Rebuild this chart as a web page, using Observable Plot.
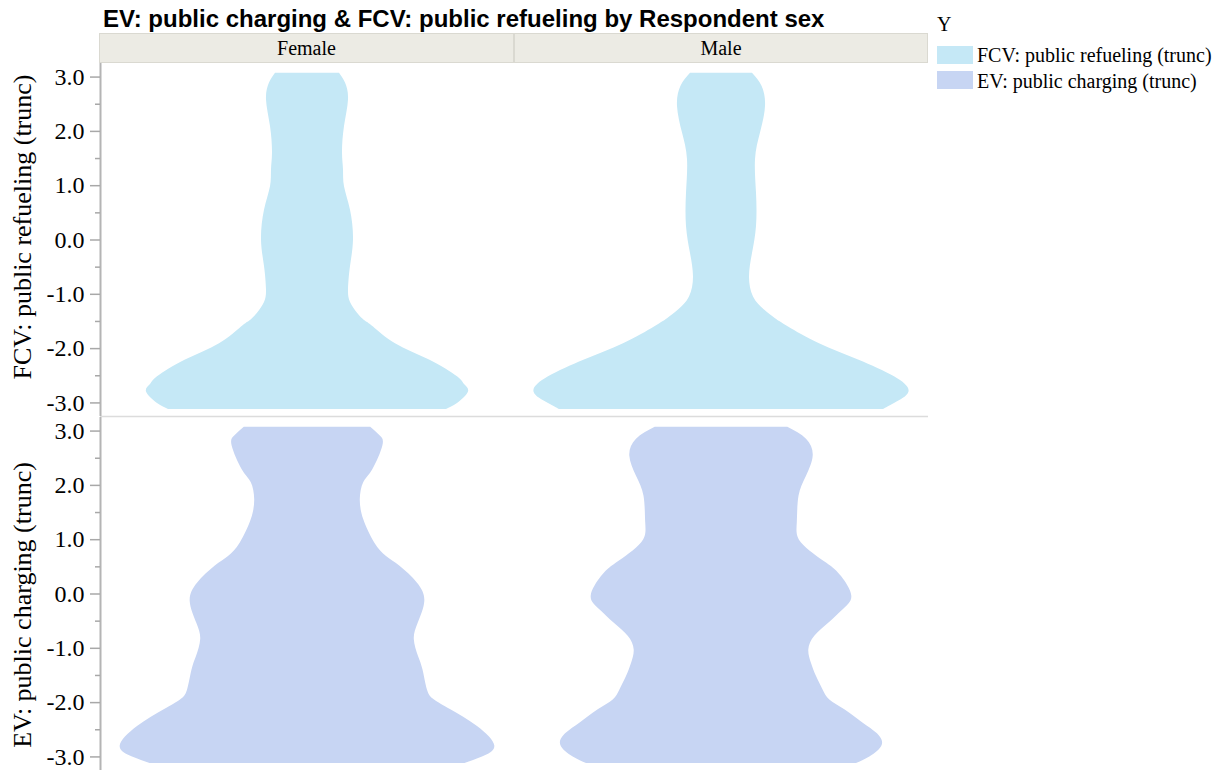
<!DOCTYPE html>
<html>
<head>
<meta charset="utf-8">
<script src="https://cdn.jsdelivr.net/npm/d3@7"></script>
<script src="https://cdn.jsdelivr.net/npm/@observablehq/plot@0.6"></script>
<style>
  body { margin: 0; background: white; }
  #wrap { position: relative; width: 1229px; height: 770px; overflow: hidden; font-family: "Liberation Serif", "Times New Roman", serif; color: black; }
  #title { position: absolute; left: 103px; top: 7px; font: bold 24px/24px "Liberation Sans", Arial, sans-serif; white-space: nowrap; }
  .strip { position: absolute; top: 33px; height: 28px; line-height: 28px; background: #ECEBE4; border: 1px solid #DAD9D1; text-align: center; font-size: 20px; box-sizing: content-box; }
  #chart { position: absolute; left: 0; top: 63px; }
  .leg { position: absolute; font-size: 20px; line-height: 20px; white-space: nowrap; }
  .sw { position: absolute; left: 937px; width: 36px; height: 18px; }
</style>
</head>
<body>
<div id="wrap">
  <div id="title"></div>
  <div id="strips"></div>
  <div id="chart"></div>
  <div id="legend"></div>
</div>
<script>
// ---- data ----
const titleText = "EV: public charging & FCV: public refueling by Respondent sex";
const sexes = ["Female", "Male"];
const rows = ["FCV: public refueling (trunc)", "EV: public charging (trunc)"];
const rowColors = ["#C5E8F6", "#C7D5F3"];
const legendTitle = "Y";
const majorTicks = [-3, -2, -1, 0, 1, 2, 3];
const minorTicks = [-2.5, -1.5, -0.5, 0.5, 1.5, 2.5];

// [value, density half-width] pairs, bottom to top
const fcvFemale = [
  [-3.12, 1.39], [-3.01, 1.50], [-2.80, 1.61], [-2.66, 1.57], [-2.52, 1.50], [-2.21, 1.22],
  [-1.91, 0.88], [-1.60, 0.66], [-1.48, 0.57], [-1.35, 0.50], [-1.15, 0.43], [-0.92, 0.41],
  [-0.49, 0.43], [0.00, 0.46], [0.55, 0.43], [0.98, 0.37], [1.29, 0.36], [1.60, 0.35],
  [2.09, 0.37], [2.58, 0.41], [2.89, 0.38], [3.07, 0.32]
];
const fcvMale = [
  [-3.12, 1.62], [-3.01, 1.73], [-2.80, 1.875], [-2.52, 1.73], [-2.21, 1.37], [-1.91, 0.98],
  [-1.60, 0.67], [-1.45, 0.54], [-1.29, 0.43], [-1.05, 0.32], [-0.68, 0.28], [-0.25, 0.31],
  [0.25, 0.35], [0.86, 0.35], [1.48, 0.34], [1.97, 0.39], [2.46, 0.44], [2.83, 0.405], [3.07, 0.31]
];
const evFemale = [
  [-3.12, 1.575], [-3.00, 1.75], [-2.80, 1.873], [-2.44, 1.70], [-2.13, 1.433], [-1.95, 1.27],
  [-1.77, 1.20], [-1.40, 1.155], [-1.15, 1.11], [-0.84, 1.068], [-0.54, 1.107], [-0.14, 1.173],
  [0.20, 1.10], [0.51, 0.925], [0.69, 0.79], [0.94, 0.672], [1.37, 0.562], [1.74, 0.528],
  [2.05, 0.562], [2.29, 0.653], [2.72, 0.753], [2.91, 0.728], [3.07, 0.632]
];
const evMale = [
  [-3.12, 1.35], [-3.00, 1.483], [-2.78, 1.608], [-2.56, 1.55], [-2.38, 1.417], [-2.13, 1.233],
  [-1.95, 1.083], [-1.77, 1.017], [-1.52, 0.95], [-1.28, 0.90], [-1.03, 0.873], [-0.78, 0.933],
  [-0.54, 1.072], [-0.29, 1.217], [-0.04, 1.303], [0.32, 1.20], [0.57, 1.05], [0.94, 0.80],
  [1.31, 0.758], [1.80, 0.775], [2.17, 0.85], [2.54, 0.917], [2.85, 0.85], [3.07, 0.663]
];

const series = [
  {row: rows[0], sex: sexes[0], pts: fcvFemale},
  {row: rows[0], sex: sexes[1], pts: fcvMale},
  {row: rows[1], sex: sexes[0], pts: evFemale},
  {row: rows[1], sex: sexes[1], pts: evMale}
];
const table = series.flatMap(s => s.pts.map(([y, d]) => ({row: s.row, sex: s.sex, y, d})));

const XMAX = 2.07;
const YDOM = [-3.25, 3.25];

// ---- title / strips / legend (HTML around the SVG) ----
document.getElementById("title").textContent = titleText;
const strips = document.getElementById("strips");
sexes.forEach((s, i) => {
  const d = document.createElement("div");
  d.className = "strip";
  d.style.left = (i === 0 ? 99 : 514) + "px";
  d.style.width = (i === 0 ? 413 : 412) + "px";
  d.textContent = s;
  strips.appendChild(d);
});
const legend = document.getElementById("legend");
const lt = document.createElement("div");
lt.className = "leg"; lt.style.left = "937px"; lt.style.top = "14px"; lt.textContent = legendTitle;
legend.appendChild(lt);
rows.forEach((r, i) => {
  const sw = document.createElement("div");
  sw.className = "sw"; sw.style.top = (46 + i * 25) + "px"; sw.style.background = rowColors[i];
  legend.appendChild(sw);
  const t = document.createElement("div");
  t.className = "leg"; t.style.left = "977px"; t.style.top = (45 + i * 26) + "px"; t.textContent = r;
  legend.appendChild(t);
});

// ---- the plot ----
const leftFacets = rows.map(r => ({row: r, sex: sexes[0]}));
const topFacets = sexes.map(s => ({row: rows[0], sex: s}));

const plot = Plot.plot({
  width: 930,
  height: 707,
  marginLeft: 100,
  marginRight: 2,
  marginTop: 0,
  marginBottom: 0,
  style: {background: "transparent", fontFamily: "'Liberation Serif', 'Times New Roman', serif", overflow: "visible", color: "black"},
  fx: {domain: sexes, padding: 0, axis: null},
  fy: {domain: rows, paddingInner: 0.004, paddingOuter: 0, axis: null},
  x: {domain: [-XMAX, XMAX], axis: null},
  y: {domain: YDOM, axis: null},
  color: {domain: rows, range: rowColors},
  marks: [
    Plot.areaX(table, {fx: "sex", fy: "row", y: "y", x1: d => -d.d, x2: "d", fill: "row", curve: "natural"}),
    Plot.ruleY(topFacets, {fx: "sex", fy: "row", y: () => YDOM[0], stroke: "#DCDCDC", strokeWidth: 1.5}),
    Plot.ruleX(leftFacets, {fx: "sex", fy: "row", x: () => -XMAX, stroke: "#B4B4B4", strokeWidth: 2}),
    Plot.axisY({ticks: minorTicks, tickSize: 5, text: null, label: null, stroke: "#A8A8A8", strokeWidth: 1.5}),
    Plot.axisY({ticks: majorTicks, tickSize: 10, tickPadding: 6, tickFormat: d => d.toFixed(1), fontSize: 24, stroke: "#A8A8A8", strokeWidth: 1.5, fill: "black", label: null}),
    Plot.text([leftFacets[0]], {fx: "sex", fy: "row", text: d => d.row, frameAnchor: "left", textAnchor: "middle", dx: -78, dy: -13, rotate: -90, fontSize: 26, fill: "black"}),
    Plot.text([leftFacets[1]], {fx: "sex", fy: "row", text: d => d.row, frameAnchor: "left", textAnchor: "middle", dx: -78, dy: 11, rotate: -90, fontSize: 26, fill: "black"})
  ]
});
document.getElementById("chart").appendChild(plot);
</script>
</body>
</html>
